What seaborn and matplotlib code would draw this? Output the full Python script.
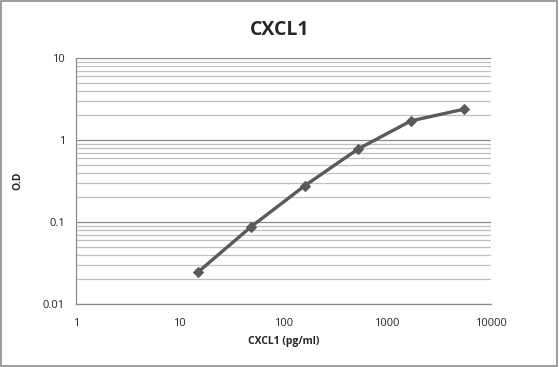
import numpy as np
import pandas as pd
import matplotlib
matplotlib.use('Agg')
import matplotlib.pyplot as plt
import seaborn as sns
from matplotlib.ticker import LogLocator, FixedLocator, NullFormatter, FixedFormatter

# Standard curve values
concentration = [15, 49, 161, 526, 1700, 5500]
od_values = [0.0244, 0.0877, 0.277, 0.777, 1.71, 2.37]

x_ticks = [1, 10, 100, 1000, 10000]
x_tick_labels = ['1', '10', '100', '1000', '10000']
y_ticks = [0.01, 0.1, 1, 10]
y_tick_labels = ['0.01', '0.1', '1', '10']

df = pd.DataFrame({'conc': concentration, 'od': od_values})

sns.set_style('white')
plt.rcParams['font.family'] = ['Open Sans', 'DejaVu Sans']

fig = plt.figure(figsize=(5.59, 3.67), dpi=100)
ax = fig.add_axes([0.136, 0.172, 0.742, 0.670])

ax.set_xscale('log')
ax.set_yscale('log')
ax.set_xlim(1, 10000)
ax.set_ylim(0.01, 10)

# horizontal gridlines, major darker than minor
ax.yaxis.set_major_locator(FixedLocator(y_ticks))
ax.yaxis.set_major_formatter(FixedFormatter(y_tick_labels))
ax.yaxis.set_minor_locator(LogLocator(base=10, subs=np.arange(2, 10)))
ax.yaxis.set_minor_formatter(NullFormatter())
ax.grid(True, which='major', axis='y', color='#8c8c8c', linewidth=0.9)
ax.grid(True, which='minor', axis='y', color='#bfbfbf', linewidth=0.9)
ax.grid(False, axis='x')

ax.xaxis.set_major_locator(FixedLocator(x_ticks))
ax.xaxis.set_major_formatter(FixedFormatter(x_tick_labels))
ax.xaxis.set_minor_locator(FixedLocator([]))

sns.lineplot(data=df, x='conc', y='od', ax=ax, color='#5a5a5a', linewidth=2.4,
             marker='D', markersize=5.5, markeredgecolor='#5a5a5a', zorder=5)

for side in ['top', 'right']:
    ax.spines[side].set_visible(False)
for side in ['left', 'bottom']:
    ax.spines[side].set_color('#8c8c8c')
    ax.spines[side].set_linewidth(0.9)

ax.tick_params(axis='both', which='major', length=4, width=0.9, color='#8c8c8c',
               labelsize=8, direction='out')
ax.tick_params(axis='y', which='minor', length=0)
ax.tick_params(axis='x', which='major', pad=6)
ax.tick_params(axis='y', which='major', pad=4)

ax.set_xlabel('CXCL1 (pg/ml)', fontsize=7.5, fontweight='bold', labelpad=5)
ax.set_ylabel('O.D', fontsize=7.5, fontweight='bold', labelpad=14)
fig.suptitle('CXCL1', fontsize=14, fontweight='bold', y=0.945)

# outer chart border
fig.patches.append(plt.Rectangle((0.002, 0.003), 0.995, 0.993, transform=fig.transFigure,
                                 fill=False, edgecolor='#8c8c8c', linewidth=1.2))

fig.savefig('out.png', dpi=100)
